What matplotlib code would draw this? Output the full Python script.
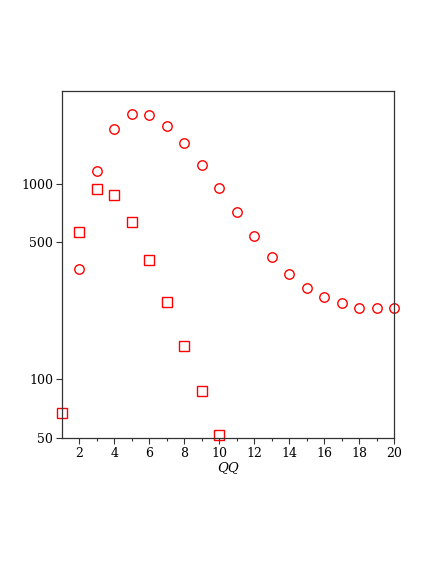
import numpy as np
import matplotlib.pyplot as plt
from matplotlib.ticker import FixedLocator, NullLocator, FixedFormatter

plt.rcParams['font.family'] = ['DejaVu Serif']

# circle series, x = 1..20 (no point at 1)
circ_x = [2, 3, 4, 5, 6, 7, 8, 9, 10, 11, 12, 13, 14, 15, 16, 17, 18, 19, 20]
circ_y = [367, 1165, 1910, 2280, 2254, 1965, 1609, 1246, 954, 714, 541,
          423, 343, 291, 263, 245, 232, 231, 231]

# square series
sq_x = [1, 2, 3, 4, 5, 6, 7, 8, 9, 10]
sq_y = [66.7, 564, 943, 879, 632, 407, 248, 147, 86.9, 51.5]

x_ticks = [2, 4, 6, 8, 10, 12, 14, 16, 18, 20]
y_ticks = [50, 100, 500, 1000]

fig = plt.figure(figsize=(4.36, 5.64), dpi=100)
ax = fig.add_axes([62 / 436, 1 - 437.7 / 564, (394 - 62) / 436, (437.7 - 91) / 564])

ax.plot(circ_x, circ_y, linestyle='none', marker='o', markersize=6.8,
        markerfacecolor='none', markeredgecolor='red', markeredgewidth=1.0,
        clip_on=False)
ax.plot(sq_x, sq_y, linestyle='none', marker='s', markersize=6.5,
        markerfacecolor='none', markeredgecolor='red', markeredgewidth=1.0,
        clip_on=False)

ax.set_yscale('log')
ax.set_xlim(1, 20)
ax.set_ylim(50, 2978)

ax.xaxis.set_major_locator(FixedLocator(x_ticks))
ax.xaxis.set_minor_locator(FixedLocator([3, 5, 7, 9, 11, 13, 15, 17, 19]))
ax.yaxis.set_major_locator(FixedLocator(y_ticks))
ax.yaxis.set_major_formatter(FixedFormatter([str(v) for v in y_ticks]))
ax.yaxis.set_minor_locator(NullLocator())

ax.tick_params(axis='both', which='major', direction='out', length=4,
               width=0.8, color='#333333', labelsize=9, pad=2.5)
ax.tick_params(axis='x', which='minor', direction='out', length=2,
               width=0.8, color='#333333')

for s in ax.spines.values():
    s.set_color('#333333')
    s.set_linewidth(0.9)

ax.set_xlabel('QQ', fontstyle='italic', fontsize=9.5, labelpad=1)

fig.savefig('out.png', dpi=100)
